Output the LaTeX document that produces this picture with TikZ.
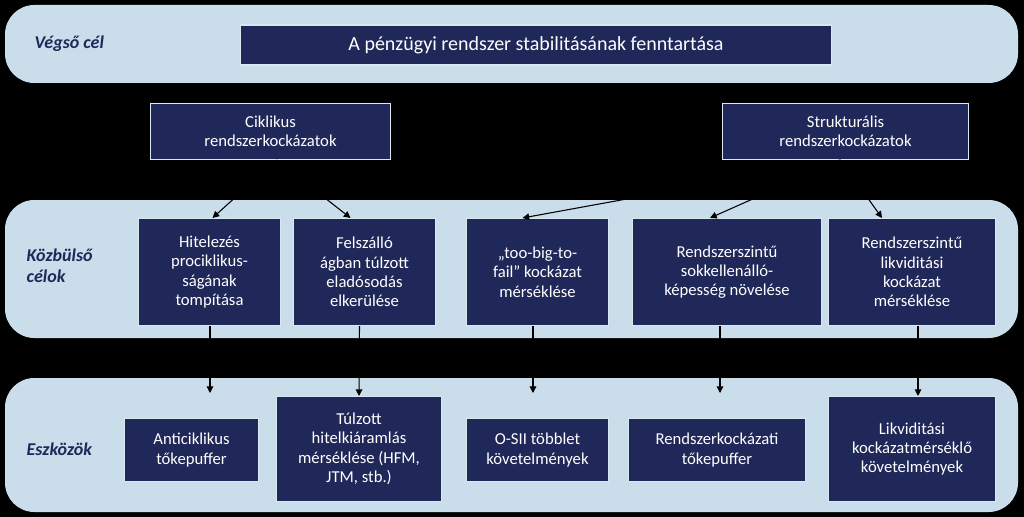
\documentclass[tikz,border=0pt]{standalone}
\usepackage{fontspec}
\setmainfont{Carlito}
\usetikzlibrary{calc,arrows.meta}
\definecolor{band}{HTML}{C9DDEB}
\definecolor{navy}{HTML}{1F2858}
\definecolor{lbl}{HTML}{1F2858}
\tikzset{
 bandbox/.style={fill=band,draw=none,rounded corners=22pt},
 navbox/.style={fill=navy,draw=band!70,line width=0.8pt,text=white,align=center,font=\fontsize{12.5}{14.5}\selectfont,inner sep=0pt},
 lab/.style={text=lbl,font=\fontsize{13.5}{16}\selectfont\bfseries\itshape,align=left,anchor=west},
 arr/.style={-{Triangle[length=5pt,width=5pt]},line width=0.8pt,black}
}
\begin{document}
\begin{tikzpicture}[x=0.75pt,y=-0.75pt]
\fill[black] (0,0) rectangle (1024,517);
\useasboundingbox (0,0) rectangle (1024,517);
\fill[bandbox] (5,5) rectangle (1018,83);
\fill[bandbox] (5,200) rectangle (1018,338);
\fill[bandbox] (5,378) rectangle (1018,512);
\node[lab] (l1) at (30,44) {Végső cél};
\node[lab] (l2) at (22,266) {Közbülső\\célok};
\node[lab] (l3) at (22,449) {Eszközök};
\newcommand{\bx}[6]{\node[navbox,minimum width=#3*0.75pt-0.75pt,minimum height=#5*0.75pt-0.75pt] (#1) at ({(#2+#3/2)},{(#4+#5/2)}) {#6};}
\node[navbox,minimum width=443pt,minimum height=30pt,font=\fontsize{15}{17}\selectfont] (top) at (536,45) {A pénzügyi rendszer stabilitásának fenntartása};
\bx{cik}{150}{241}{103}{57}{Ciklikus\\rendszerkockázatok}
\bx{st}{722}{247}{103}{57}{Strukturális\\rendszerkockázatok}
\bx{m1}{138}{143}{218}{108}{Hitelezés\\prociklikus-\\ságának\\tompítása}
\bx{m2}{293}{143}{218}{108}{Felszálló\\ágban túlzott\\eladósodás\\elkerülése}
\bx{m3}{466}{143}{218}{108}{„too-big-to-\\fail” kockázat\\mérséklése}
\bx{m4}{632}{190}{218}{108}{Rendszerszintű\\sokkellenálló-\\képesség növelése}
\bx{m5}{828}{168}{218}{108}{Rendszerszintű\\likviditási\\kockázat\\mérséklése}
\bx{b1}{124}{135}{418}{64}{Anticiklikus\\tőkepuffer}
\bx{b2}{276}{166}{396}{106}{Túlzott\\hitelkiáramlás\\mérséklése (HFM,\\JTM, stb.)}
\bx{b3}{466}{143}{418}{64}{O-SII többlet\\követelmények}
\bx{b4}{628}{178}{418}{64}{Rendszerkockázati\\tőkepuffer}
\bx{b5}{828}{168}{396}{106}{Likviditási\\kockázatmérséklő\\követelmények}
\coordinate (cs) at ($(cik.south)+(6,0)$);
\coordinate (ss) at ($(st.south)+(-5,0)$);
\draw[arr] (cs) -- ($(m1.north)+(3,0)$);
\draw[arr] (cs) -- ($(m2.north)+(-14,0)$);
\draw[arr] (ss) -- ($(m3.north)+(-15,0)$);
\draw[arr] (ss) -- ($(m4.north)+(-17,0)$);
\draw[arr] (ss) -- ($(m5.north)+(-30,0)$);
\coordinate (e1) at (210,393);
\coordinate (e3) at (533,393);
\coordinate (e4) at (720,393);
\draw[arr] (m1.south -| e1) -- (e1);
\draw[arr] ($(m2.south)+(-5,0)$) -- ($(b2.north)+(0,0)$);
\draw[arr] (m3.south -| e3) -- (e3);
\draw[arr] (m4.south -| e4) -- (e4);
\draw[arr] ($(m5.south)+(6,0)$) -- ($(b5.north)+(6,0)$);
\end{tikzpicture}
\end{document}
